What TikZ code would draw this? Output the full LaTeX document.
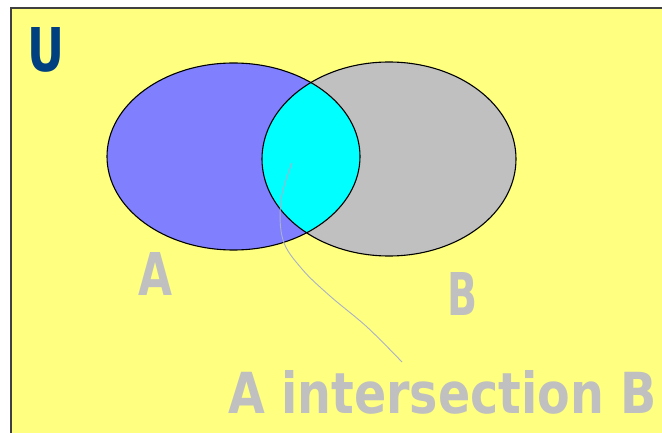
\documentclass[tikz,border=0pt]{standalone}
\usepackage{fontspec}
\setmainfont{DejaVu Sans}
\usepackage{graphicx}
\definecolor{bgyellow}{RGB}{255,255,128}
\definecolor{setA}{RGB}{128,128,255}
\definecolor{setB}{RGB}{192,192,192}
\definecolor{interC}{RGB}{0,255,255}
\definecolor{labelgray}{RGB}{192,192,192}
\definecolor{ublue}{RGB}{0,64,128}
\definecolor{framegray}{RGB}{64,64,64}
\definecolor{leadergray}{RGB}{170,176,200}
\tikzset{
  lbl/.style={inner sep=0pt, outer sep=0pt, anchor=north west, text=labelgray, font=\bfseries},
  setline/.style={draw=black, line width=1.1pt},
  leader/.style={draw=leadergray, line width=0.9pt}
}
\begin{document}
\begin{tikzpicture}[x=1pt,y=-1pt]
\useasboundingbox (0,0) rectangle (662,433);
\fill[white] (0,0) rectangle (662,433);
\fill[bgyellow] (10,7) rectangle (662,433);
\draw[framegray, line width=2pt] (11,433) -- (11,8) -- (662,8);
% sets
\fill[setA] (233.5,156.5) ellipse [x radius=126.5, y radius=93.5];
\fill[setB] (389,159) ellipse [x radius=127, y radius=97];
\begin{scope}
  \clip (233.5,156.5) ellipse [x radius=126.5, y radius=93.5];
  \fill[interC] (389,159) ellipse [x radius=127, y radius=97];
\end{scope}
\draw[setline] (233.5,156.5) ellipse [x radius=126.5, y radius=93.5];
\draw[setline] (389,159) ellipse [x radius=127, y radius=97];
% labels
\node[lbl, text=ublue] (U) at (27,27) {\resizebox{37pt}{44pt}{U}};
\node[lbl] (labA) at (138,252) {\resizebox{34pt}{43pt}{A}};
\node[lbl] (labB) at (447,272) {\resizebox{30pt}{43pt}{B}};
\node[lbl] (labI) at (228,370) {\resizebox{429pt}{43pt}{A intersection B}};
% leader line
\coordinate (ls) at (292,163);
\coordinate (le) at (402,362);
\draw[leader] plot[smooth, tension=0.6] coordinates {(ls) (281,200) (283,240) (302,269) (330,296) (367,327) (le)};
\end{tikzpicture}
\end{document}
